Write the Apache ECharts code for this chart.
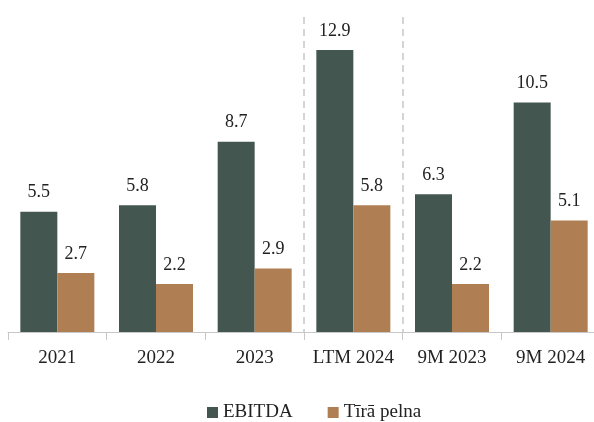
<!DOCTYPE html>
<html><head><meta charset="utf-8">
<script src="https://cdn.jsdelivr.net/npm/echarts@6/dist/echarts.min.js"></script>
<style>html,body{margin:0;padding:0;background:#fff;overflow:hidden}#c{width:600px;height:422px}</style>
</head><body><div id="c"></div>
<script>
const categories = ['2021', '2022', '2023', 'LTM 2024', '9M 2023', '9M 2024'];
const ebitda = [5.5, 5.8, 8.7, 12.9, 6.3, 10.5];
const tiraPelna = [2.7, 2.2, 2.9, 5.8, 2.2, 5.1];
const seriesNames = ['EBITDA', 'Tīrā pelna'];
const dividerPositions = [3, 4];

const FONT = 'Liberation Serif';
const chart = echarts.init(document.getElementById('c'));
const labelCfg = {show: true, position: 'top', distance: 10, fontFamily: FONT, fontSize: 18, color: '#222',
  formatter: p => p.value.toFixed(1)};
chart.setOption({
  animation: false,
  textStyle: {fontFamily: FONT},
  grid: {left: 8, top: 4, right: 0, bottom: 90},
  legend: {top: 403, left: 207, padding: 0, itemWidth: 11, itemHeight: 11, itemGap: 35,
    icon: 'rect', textStyle: {fontFamily: FONT, fontSize: 19, color: '#222'}, data: seriesNames},
  xAxis: [{type: 'category', data: categories,
    axisLine: {lineStyle: {color: '#c8c8c8', width: 1}},
    axisTick: {show: true, length: 8, lineStyle: {color: '#c8c8c8'}},
    axisLabel: {interval: 0, fontFamily: FONT, fontSize: 19, color: '#222', margin: 17}},
    {type: 'value', min: 0, max: 6, show: false}],
  yAxis: {type: 'value', min: 0, max: 15, show: false, splitLine: {show: false}},
  series: [
    {name: seriesNames[0], type: 'bar', data: ebitda, barGap: '0%', barCategoryGap: '25%',
     itemStyle: {color: '#435750'}, label: labelCfg},
    {name: seriesNames[1], type: 'bar', data: tiraPelna,
     itemStyle: {color: '#B07E53'}, label: labelCfg},
    {type: 'line', xAxisIndex: 1, data: [], silent: true,
     markLine: {symbol: 'none', silent: true, label: {show: false},
       lineStyle: {color: '#c8c8c8', type: [7, 5], width: 1.5},
       data: dividerPositions.map(x => [{coord: [x, 14.4]}, {coord: [x, 0]}])}}
  ]
});
</script></body></html>
